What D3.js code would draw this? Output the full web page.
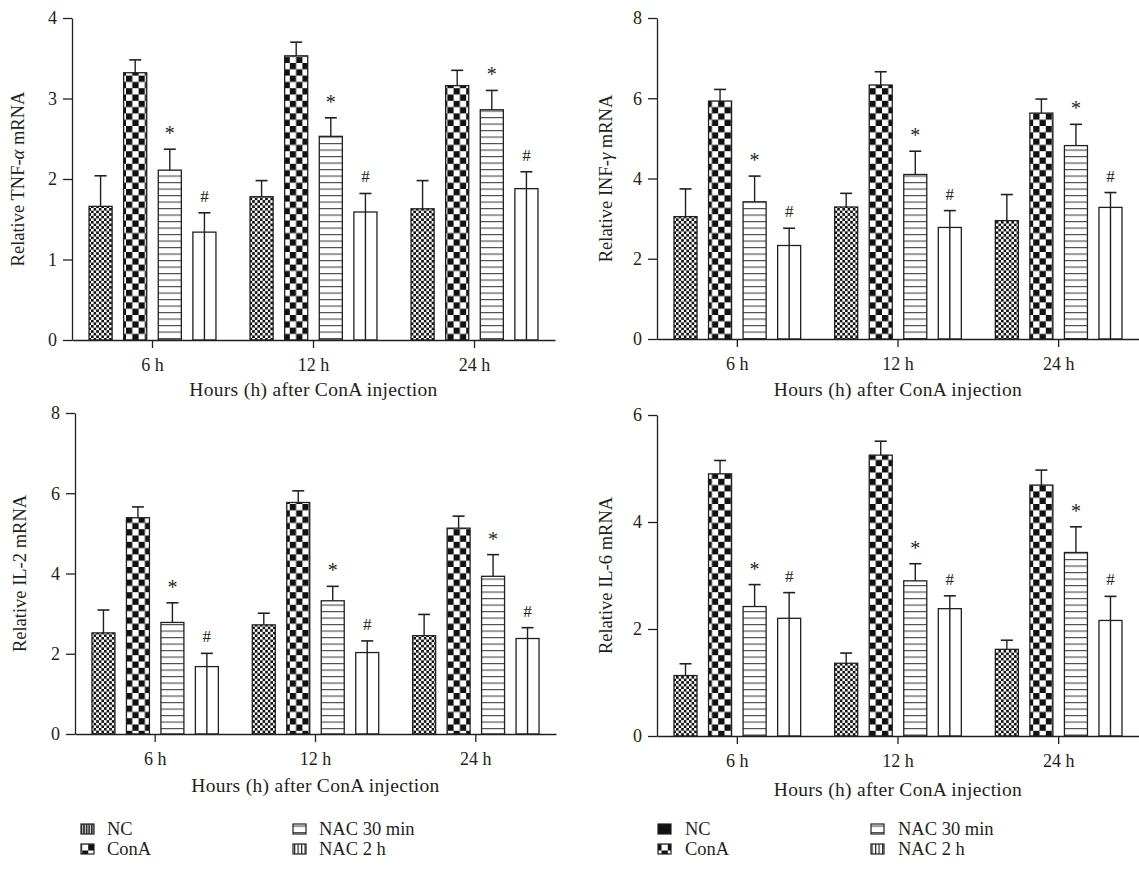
<!DOCTYPE html>
<meta charset="utf-8">
<style>
body { margin: 0; background: #fff; }
text { font-family: "Liberation Serif", "DejaVu Serif", serif; fill: #231f20; }
.tick line, .domain { stroke: #231f20; stroke-width: 1.3px; }
</style>
<svg width="1139" height="870"></svg>
<script src="https://cdn.jsdelivr.net/npm/d3@7/dist/d3.min.js"></script>
<script>

var groups = ["6 h", "12 h", "24 h"];
var series = ["NC", "ConA", "NAC 30 min", "NAC 2 h"];

// means and mean+SD, one row per time point, columns follow series
var tnfMean = [[1.66, 3.32, 2.11, 1.34], [1.78, 3.53, 2.53, 1.59], [1.63, 3.16, 2.86, 1.88]];
var tnfTop  = [[2.04, 3.48, 2.37, 1.58], [1.98, 3.70, 2.76, 1.82], [1.98, 3.35, 3.10, 2.09]];
var infMean = [[3.05, 5.93, 3.42, 2.33], [3.29, 6.33, 4.10, 2.78], [2.95, 5.63, 4.82, 3.28]];
var infTop  = [[3.74, 6.22, 4.06, 2.76], [3.63, 6.66, 4.68, 3.20], [3.60, 5.98, 5.35, 3.65]];
var il2Mean = [[2.52, 5.39, 2.78, 1.68], [2.72, 5.77, 3.32, 2.03], [2.45, 5.13, 3.93, 2.38]];
var il2Top  = [[3.09, 5.66, 3.27, 2.01], [3.01, 6.06, 3.68, 2.32], [2.98, 5.43, 4.47, 2.65]];
var il6Mean = [[1.13, 4.90, 2.42, 2.20], [1.36, 5.25, 2.90, 2.38], [1.62, 4.69, 3.43, 2.16]];
var il6Top  = [[1.35, 5.15, 2.83, 2.68], [1.55, 5.51, 3.22, 2.62], [1.79, 4.97, 3.91, 2.61]];

var svg = d3.select("svg");
var defs = svg.append("defs");

// fill patterns
function checker(id, s) {
  var p = defs.append("pattern").attr("id", id).attr("patternUnits", "userSpaceOnUse")
      .attr("width", s * 2).attr("height", s * 2);
  p.append("rect").attr("width", s * 2).attr("height", s * 2).attr("fill", "#fff");
  p.append("rect").attr("width", s).attr("height", s).attr("fill", "#111");
  p.append("rect").attr("x", s).attr("y", s).attr("width", s).attr("height", s).attr("fill", "#111");
}
checker("pNC", 2.6);
checker("pConA", 6.3);
var ph = defs.append("pattern").attr("id", "pNAC30").attr("patternUnits", "userSpaceOnUse")
    .attr("width", 8).attr("height", 6.5);
ph.append("rect").attr("width", 8).attr("height", 6.5).attr("fill", "#fff");
ph.append("line").attr("x1", 0).attr("x2", 8).attr("y1", 0.6).attr("y2", 0.6)
    .attr("stroke", "#444").attr("stroke-width", 1.1);
var pv = defs.append("pattern").attr("id", "pVert").attr("patternUnits", "userSpaceOnUse")
    .attr("width", 3.5).attr("height", 8);
pv.append("rect").attr("width", 3.5).attr("height", 8).attr("fill", "#fff");
pv.append("line").attr("x1", 0.6).attr("x2", 0.6).attr("y1", 0).attr("y2", 8)
    .attr("stroke", "#222").attr("stroke-width", 1.2);
var pd = defs.append("pattern").attr("id", "pVertDense").attr("patternUnits", "userSpaceOnUse")
    .attr("width", 2.6).attr("height", 8);
pd.append("rect").attr("width", 2.6).attr("height", 8).attr("fill", "#ddd");
pd.append("line").attr("x1", 0.8).attr("x2", 0.8).attr("y1", 0).attr("y2", 8)
    .attr("stroke", "#111").attr("stroke-width", 1.4);

var fills = ["url(#pNC)", "url(#pConA)", "url(#pNAC30)", "none"];
var marks = ["", "", "*", "#"];

var panels = [
  {name: "TNF-", greek: "\u03b1", mean: tnfMean, top: tnfTop, max: 4, ticks: [0, 1, 2, 3, 4],
   x0: 72, x1: 555, y0: 340, y1: 18, labX: 18, xlabY: 396},
  {name: "INF-", greek: "\u03b3", mean: infMean, top: infTop, max: 8, ticks: [0, 2, 4, 6, 8],
   x0: 657, x1: 1139, y0: 339, y1: 18, labX: 606, xlabY: 396},
  {name: "IL-2", greek: "", mean: il2Mean, top: il2Top, max: 8, ticks: [0, 2, 4, 6, 8],
   x0: 75, x1: 556, y0: 734, y1: 413, labX: 20, xlabY: 792},
  {name: "IL-6", greek: "", mean: il6Mean, top: il6Top, max: 6, ticks: [0, 2, 4, 6],
   x0: 657, x1: 1139, y0: 736, y1: 415, labX: 606, xlabY: 796}
];

panels.forEach(function(p) {
  var g = svg.append("g");
  var x = d3.scaleBand().domain(groups).range([p.x0, p.x1]);
  var half = x.bandwidth() * 0.43;
  var xs = d3.scaleBand().domain(series).range([-half, half]).paddingInner(1 / 3).paddingOuter(1 / 6);
  var y = d3.scaleLinear().domain([0, p.max]).range([p.y0, p.y1]);

  var rows = [];
  groups.forEach(function(gr, i) {
    series.forEach(function(s, j) {
      rows.push({g: gr, s: s, j: j, v: p.mean[i][j], t: p.top[i][j]});
    });
  });
  var cx = function(d) { return x(d.g) + x.bandwidth() / 2 + xs(d.s) + xs.bandwidth() / 2; };

  // error whiskers (drawn from 0, hidden behind filled bars)
  g.selectAll(".err").data(rows).enter().append("line")
      .attr("x1", cx).attr("x2", cx)
      .attr("y1", y(0)).attr("y2", function(d) { return y(d.t); })
      .attr("stroke", "#231f20").attr("stroke-width", 1.4);
  g.selectAll(".cap").data(rows).enter().append("line")
      .attr("x1", function(d) { return cx(d) - 6; }).attr("x2", function(d) { return cx(d) + 6; })
      .attr("y1", function(d) { return y(d.t); }).attr("y2", function(d) { return y(d.t); })
      .attr("stroke", "#231f20").attr("stroke-width", 1.6);

  g.selectAll(".bar").data(rows).enter().append("rect")
      .attr("x", function(d) { return cx(d) - xs.bandwidth() / 2; })
      .attr("width", xs.bandwidth())
      .attr("y", function(d) { return y(d.v); })
      .attr("height", function(d) { return y(0) - y(d.v); })
      .attr("fill", function(d) { return fills[d.j]; })
      .attr("stroke", "#231f20").attr("stroke-width", 1.3);

  g.selectAll(".mark").data(rows.filter(function(d) { return marks[d.j]; })).enter().append("text")
      .attr("x", cx).attr("y", function(d) { return y(d.t) - (d.j === 2 ? 9 : 11); })
      .attr("text-anchor", "middle")
      .style("font-size", function(d) { return d.j === 2 ? "20px" : "17px"; })
      .text(function(d) { return marks[d.j]; });

  // axes
  var ya = g.append("g").attr("transform", "translate(" + p.x0 + ",0)")
      .call(d3.axisLeft(y).tickValues(p.ticks).tickFormat(d3.format("d")).tickSize(9).tickSizeOuter(0).tickPadding(6));
  ya.selectAll("text").style("font-size", "18px");

  var xa = g.append("g").attr("transform", "translate(0," + p.y0 + ")")
      .call(d3.axisBottom(x).tickSize(8).tickSizeOuter(0).tickPadding(10));
  xa.selectAll("text").style("font-size", "18px");

  g.append("text")
      .attr("transform", "translate(" + p.labX + "," + ((p.y0 + p.y1) / 2) + ") rotate(-90)")
      .attr("text-anchor", "middle").attr("dy", "0.35em")
      .style("font-size", "18.5px")
      .call(function(t) {
        t.append("tspan").text("Relative " + p.name);
        if (p.greek) t.append("tspan").style("font-style", "italic").text(p.greek);
        t.append("tspan").text(" mRNA");
      });

  g.append("text")
      .attr("x", (p.x0 + p.x1) / 2).attr("y", p.xlabY)
      .attr("text-anchor", "middle")
      .style("font-size", "19.5px").style("letter-spacing", "0.3px")
      .text("Hours (h) after ConA injection");
});

// legends below the bottom panels
var legends = [
  {x: [80, 292], sw: ["url(#pVertDense)", "url(#pConA)", "url(#pNAC30)", "url(#pVert)"], tx: 27},
  {x: [657, 870], sw: ["#111", "url(#pConA)", "url(#pNAC30)", "url(#pVert)"], tx: 28}
];
legends.forEach(function(L) {
  series.forEach(function(s, j) {
    var lx = L.x[j < 2 ? 0 : 1], ly = j % 2 === 0 ? 829 : 849;
    svg.append("rect").attr("x", lx + 1).attr("y", ly - 5).attr("width", 13).attr("height", 10)
        .attr("fill", L.sw[j]).attr("stroke", "#231f20").attr("stroke-width", 1.2);
    svg.append("text").attr("x", lx + L.tx).attr("y", ly).attr("dy", "0.35em")
        .style("font-size", "18.5px").text(s);
  });
});

</script>
